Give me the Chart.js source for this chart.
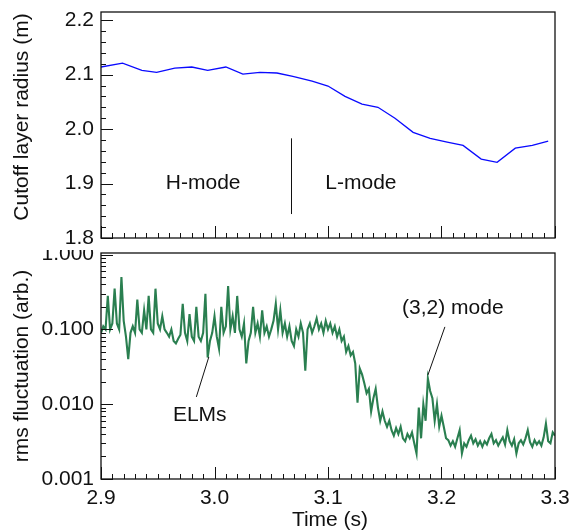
<!DOCTYPE html>
<html><head><meta charset="utf-8">
<script src="https://cdn.jsdelivr.net/npm/chart.js@4/dist/chart.umd.min.js"></script>
<style>
html,body{margin:0;padding:0;background:#fff;width:569px;height:531px;overflow:hidden}
.box{position:absolute;left:0;width:569px}
</style></head><body>
<div class="box" style="top:0;height:250px"><canvas id="c1" width="569" height="250"></canvas></div>
<div class="box" style="top:250px;height:281px"><canvas id="c2" width="569" height="281"></canvas></div>
<script>
// ---- data ----
const radiusTimes = [2.900,2.919,2.936,2.949,2.965,2.980,2.994,3.010,3.025,3.040,3.055,3.069,3.086,3.100,3.115,3.130,3.144,3.159,3.175,3.190,3.205,3.219,3.235,3.249,3.265,3.280,3.294];
const radiusValues = [2.114,2.121,2.108,2.104,2.112,2.114,2.108,2.114,2.101,2.104,2.103,2.097,2.088,2.079,2.060,2.046,2.040,2.020,1.994,1.983,1.976,1.970,1.945,1.939,1.965,1.970,1.978];

const rmsStart = 2.9, rmsStep = 0.002;
const rmsValues = [
0.09,0.11,0.10,0.28,0.10,0.12,0.35,0.12,0.10,0.50,0.13,0.08,0.04,0.09,0.11,0.09,0.25,0.10,0.09,0.18,0.10,0.28,0.10,0.09,0.35,0.12,0.10,0.15,0.10,0.09,0.08,0.10,0.07,0.065,0.075,0.085,0.22,0.09,0.07,0.16,0.08,0.07,0.20,0.08,0.07,0.09,0.30,0.042,0.07,0.09,0.15,
0.08,0.055,0.20,0.09,0.11,0.38,0.10,0.15,0.09,0.28,0.10,0.08,0.12,0.035,0.07,0.09,0.20,0.09,0.12,0.08,0.18,0.09,0.11,0.08,0.10,0.13,0.22,0.10,0.18,0.09,0.12,0.08,0.11,0.07,0.06,0.10,0.08,0.12,0.09,0.028,0.10,0.12,0.09,0.11,0.14,0.10,0.12,0.09,0.13,0.10,
0.12,0.09,0.11,0.08,0.10,0.07,0.08,0.05,0.06,0.045,0.05,0.035,0.0105,0.03,0.025,0.019,0.014,0.016,0.008,0.012,0.016,0.009,0.006,0.008,0.006,0.005,0.006,0.0045,0.0038,0.0048,0.004,0.005,0.0035,0.0032,0.004,0.0035,0.0042,0.003,0.0022,0.009,0.0035,0.010,0.006,0.022,0.015,0.012,0.006,0.010,0.005,0.007,
0.005,0.0035,0.0033,0.0028,0.0032,0.0027,0.0035,0.0045,0.0022,0.003,0.0027,0.0033,0.0038,0.003,0.0034,0.0028,0.0032,0.0027,0.0032,0.0029,0.0035,0.004,0.003,0.0033,0.0028,0.0032,0.0036,0.0029,0.0045,0.0032,0.0028,0.0034,0.0022,0.003,0.0033,0.0029,0.0035,0.0045,0.0031,0.0027,0.0033,0.0029,0.0032,0.0028,0.0036,0.0055,0.0032,0.003,0.0042,0.0038
];
const rmsTimes = rmsValues.map((_, i) => +(rmsStart + i * rmsStep).toFixed(4));

const timeTickLabels = ['2.9','3.0','3.1','3.2','3.3'];
const radiusTickLabels = ['1.8','1.9','2.0','2.1','2.2'];
const rmsTickLabels = ['0.001','0.010','0.100','1.000'];

const topAnnotations = [
  {text:'H-mode', x:2.990, y:1.90},
  {text:'L-mode', x:3.129, y:1.90}
];
const topMarker = {x:3.067, y1:1.983, y2:1.844};
const bottomAnnotations = [
  {text:'ELMs', x:2.987, y:0.0072, lx1:2.995, ly1:0.0428, lx2:2.984, ly2:0.0125},
  {text:'(3,2) mode', x:3.210, y:0.193, lx1:3.203, ly1:0.108, lx2:3.188, ly2:0.0245}
];

// ---- drawing helpers ----
const FONT = '21px "Liberation Sans", Arial, Helvetica, sans-serif';
const INK = '#111';

function frameAndTicks(chart, opts) {
  const {ctx, chartArea: a, scales} = chart;
  const xs = scales.x, ys = scales.y;
  ctx.save();
  ctx.strokeStyle = INK;
  ctx.lineWidth = 1.3;
  ctx.strokeRect(a.left, a.top, a.right - a.left, a.bottom - a.top);
  ctx.lineWidth = 1;
  for (let k = 0; k <= 40; k++) {
    const t = 2.9 + k * 0.01;
    const px = Math.round(xs.getPixelForValue(t)) + 0.5;
    const len = (k % 10 === 0) ? 12 : 5;
    ctx.beginPath(); ctx.moveTo(px, a.bottom); ctx.lineTo(px, a.bottom - len); ctx.stroke();
  }
  opts.yMinorTicks.forEach(([v, major]) => {
    const py = Math.round(ys.getPixelForValue(v)) + 0.5;
    if (py < a.top - 1 || py > a.bottom + 1) return;
    const len = major ? 12 : 5;
    ctx.beginPath(); ctx.moveTo(a.left, py); ctx.lineTo(a.left + len, py); ctx.stroke();
  });
  ctx.fillStyle = INK;
  ctx.font = FONT;
  ctx.textAlign = 'right'; ctx.textBaseline = 'middle';
  opts.yMajor.forEach((v, i) => {
    ctx.fillText(opts.yLabels[i], a.left - 7, ys.getPixelForValue(v));
  });
  if (opts.xLabels) {
    ctx.textAlign = 'center'; ctx.textBaseline = 'middle';
    timeTickLabels.forEach(l => {
      ctx.fillText(l, xs.getPixelForValue(parseFloat(l)), a.bottom + 19);
    });
    ctx.fillText('Time (s)', 330, a.bottom + 41);
  }
  ctx.save();
  ctx.translate(22, opts.yTitleY);
  ctx.rotate(-Math.PI / 2);
  ctx.textAlign = 'center'; ctx.textBaseline = 'middle';
  ctx.fillText(opts.yTitle, 0, 0);
  ctx.restore();
  ctx.textAlign = 'center'; ctx.textBaseline = 'middle';
  opts.annotations.forEach(n => {
    ctx.fillText(n.text, xs.getPixelForValue(n.x), ys.getPixelForValue(n.y));
    if (n.lx1 !== undefined) {
      ctx.beginPath();
      ctx.moveTo(xs.getPixelForValue(n.lx1), ys.getPixelForValue(n.ly1));
      ctx.lineTo(xs.getPixelForValue(n.lx2), ys.getPixelForValue(n.ly2));
      ctx.stroke();
    }
  });
  if (opts.marker) {
    const m = opts.marker;
    const px = Math.round(xs.getPixelForValue(m.x)) + 0.5;
    ctx.beginPath();
    ctx.moveTo(px, ys.getPixelForValue(m.y1));
    ctx.lineTo(px, ys.getPixelForValue(m.y2));
    ctx.stroke();
  }
  ctx.restore();
}

const topYTicks = [];
for (let k = 0; k <= 20; k++) topYTicks.push([+(1.8 + k * 0.02).toFixed(2), k % 5 === 0]);
const botYTicks = [];
for (let d = -3; d <= 0; d++) for (let m = 1; m <= 9; m++) botYTicks.push([m * Math.pow(10, d), m === 1]);

const hiddenX = {type:'linear', min:2.9, max:3.3, display:false};

new Chart(document.getElementById('c1'), {
  type: 'line',
  data: { datasets: [{
    data: radiusTimes.map((t, i) => ({x:t, y:radiusValues[i]})),
    borderColor: '#0a0aff', borderWidth: 1.3, pointRadius: 0, tension: 0, fill: false
  }]},
  options: {
    responsive: false, animation: false,
    layout: {padding: {left:101, right:14, top:12, bottom:12}},
    plugins: {legend:{display:false}, tooltip:{enabled:false}},
    scales: { x: hiddenX, y: {type:'linear', min:1.8, max:2.215, display:false} }
  },
  plugins: [{ id:'frame1', afterDatasetsDraw(chart) {
    frameAndTicks(chart, {
      yMinorTicks: topYTicks, yMajor: [1.8,1.9,2.0,2.1,2.2], yLabels: radiusTickLabels,
      xLabels: false, yTitle: 'Cutoff layer radius (m)', yTitleY: 117,
      annotations: topAnnotations, marker: topMarker
    });
  }}]
});

new Chart(document.getElementById('c2'), {
  type: 'line',
  data: { datasets: [{
    data: rmsTimes.map((t, i) => ({x:t, y:rmsValues[i]})),
    borderColor: '#2a7f50', borderWidth: 2.1, pointRadius: 0, tension: 0, fill: false
  }]},
  options: {
    responsive: false, animation: false,
    layout: {padding: {left:101, right:14, top:3, bottom:52}},
    plugins: {legend:{display:false}, tooltip:{enabled:false}},
    scales: { x: hiddenX, y: {type:'logarithmic', min:0.001, max:1.05, display:false} }
  },
  plugins: [{ id:'frame2', afterDatasetsDraw(chart) {
    frameAndTicks(chart, {
      yMinorTicks: botYTicks, yMajor: [0.001,0.01,0.1,1], yLabels: rmsTickLabels,
      xLabels: true, yTitle: 'rms fluctuation (arb.)', yTitleY: 116,
      annotations: bottomAnnotations
    });
  }}]
});
</script>
</body></html>
